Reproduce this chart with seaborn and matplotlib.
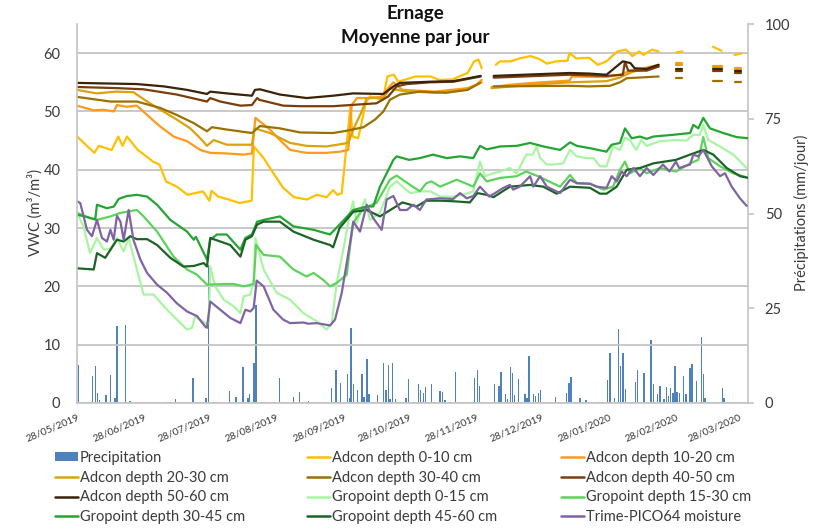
import numpy as np
import pandas as pd
import matplotlib
matplotlib.use("Agg")
import matplotlib.pyplot as plt
import matplotlib.dates as mdates
from matplotlib.lines import Line2D
from matplotlib.patches import Patch
import seaborn as sns

nan = np.nan
START = pd.Timestamp("2019-05-28")

# ---- data: (day offset from 28/05/2019, VWC) ; nan = gap in record ----
adcon_0_10 = [(0,45.7),(8,42.9),(10,44.1),(16,43.4),(19,45.7),(21,44.1),(23,45.7),(28,43.4),(32,42.3),(35,41.4),
    (38,40.9),(41,38.0),(46,37.1),(51,35.7),(58,36.3),(61,34.7),(62,36.4),(65,35.4),(69,35.0),(75,34.3),(80.5,34.7),
    (81.5,44.0),(86,42.0),(90.5,39.4),(95,36.9),(100,35.3),(106,34.9),(110.5,35.7),(115,35.3),(118,36.5),(120,35.7),
    (122,36.0),(124,43.4),(126,50.9),(127,45.7),(129.5,45.4),(130.5,46.9),(133,51.4),(135,52.6),(141,52.0),(143,56.0),
    (146,56.3),(148,55.1),(156,56.0),(163,56.0),(167,55.4),(173,55.5),(180,56.6),(183,58.6),(185,58.9),(186.5,57.4),
    (189,nan),(193,58.0),(195,58.6),(200,58.6),(204,59.1),(209,59.5),(213,59.0),(216.5,58.2),(221,58.6),(226,58.7),
    (227,60.0),(230,59.1),(236,59.2),(240,58.0),(244,58.6),(249,60.3),(253,60.6),(256,59.5),(259,60.3),(261,59.7),
    (265,60.6),(268,60.3),(272,nan),(276,60.1),(279,60.3),(286,nan),(293,61.1),(297,60.4),(300,nan),(303,59.7),(306,59.9)]
adcon_10_20 = [(0,51.0),(7.7,50.2),(12,50.3),(17,50.0),(18.4,51.1),(23,50.8),(27.6,51.0),(32.3,49.4),(38.4,47.4),
    (44.5,45.7),(50.7,44.9),(56.8,43.4),(61.4,42.9),(69,42.8),(76.8,42.6),(80.6,42.8),(82.2,48.9),(88.9,46.9),(93.5,45.1),
    (98.2,43.4),(105.8,42.9),(115,42.9),(121.2,43.1),(125,43.4),(126.6,51.1),(129,52.3),(135,52.3),(140,52.5),(145.7,55.0),
    (150,53.7),(165,53.4),(180,54.0),(184,54.6),(186.5,55.4),(189,nan),(191,54.2),(200,54.6),(210,54.9),(227,55.3),
    (228,56.0),(244,55.9),(250,56.3),(256,57.1),(261,57.4),(268,58.0),(272,nan),(276,58.3),(279,58.3),(286,nan),
    (293,57.8),(297,57.8),(300,nan),(303,57.4),(306,57.4)]
adcon_20_30 = [(0,53.7),(9,53.1),(18,53.4),(26,53.3),(32.3,51.7),(38.4,50.3),(46,48.6),(52.2,47.1),(57.6,45.1),
    (59.9,44.1),(63,45.1),(69,44.3),(80.6,44.3),(81.8,47.1),(89,46.3),(98.2,44.6),(105.8,44.1),(115,44.0),(125,44.6),
    (127.3,46.9),(131.2,50.0),(133.5,52.3),(141.2,52.3),(144.2,54.0),(150,53.5),(165,53.2),(180,53.8),(186.5,55.0),
    (189,nan),(191,54.0),(210,54.6),(227,55.0),(244,55.2),(250,55.8),(256,56.8),(261,57.2),(268,57.7),(272,nan),
    (276,58.0),(279,58.0),(286,nan),(293,57.6),(297,57.6),(300,nan),(303,57.1),(306,57.1)]
adcon_30_40 = [(0,52.5),(15.4,51.7),(27.6,51.7),(38.4,50.6),(46,49.4),(53.8,48.0),(59.9,46.6),(62.2,47.3),(69,46.9),
    (80.6,46.3),(81.5,46.6),(84.3,47.5),(93.5,47.1),(102.8,46.4),(118,46.3),(124.3,46.7),(132,47.3),(137.3,48.6),
    (141.2,50.0),(144.2,52.0),(148.8,52.9),(158,53.4),(170,53.2),(180,53.7),(185.7,54.9),(189,nan),(192,54.3),
    (227,54.4),(236,54.3),(245.6,54.4),(250.2,55.0),(253.3,55.7),(268,56.0),(272,nan),(276,55.7),(279,55.7),(286,nan),
    (293,55.3),(297,55.3),(300,nan),(303,55.0),(306,55.0)]
adcon_40_50 = [(0,54.2),(18.4,54.0),(30.7,53.8),(46,52.9),(59.9,51.7),(61.4,52.3),(66,51.7),(75.3,51.0),(80.6,51.1),
    (83,52.3),(84,52.0),(95,51.0),(102.8,50.9),(118,50.9),(125.8,51.1),(138,51.4),(143.5,52.6),(147.3,54.3),(152,54.7),
    (162.7,55.0),(173.5,55.1),(186,56.0),(189,nan),(192,55.8),(227,56.3),(236,56.2),(244,56.1),(251.5,56.3),(252.5,58.5),
    (254,57.0),(262.5,57.0),(268,57.7),(272,nan),(276,56.9),(279,56.9),(286,nan),(293,57.0),(297,57.0),(300,nan),
    (303,56.6),(306,56.6)]
adcon_50_60 = [(0,54.9),(27.6,54.7),(40,54.3),(50.7,53.7),(59.9,53.0),(61.4,53.4),(69,53.1),(80.6,52.7),(82,53.7),
    (84.3,53.8),(93.5,52.9),(105.8,52.3),(118,52.7),(127.3,53.1),(141.2,53.0),(145.8,54.3),(148.8,54.9),(162.7,55.1),
    (173.5,55.2),(186,56.1),(189,nan),(192,56.1),(227,56.6),(236,56.5),(244,56.3),(251.5,58.6),(255,58.3),(257,57.4),
    (262.5,57.3),(268,58.0),(272,nan),(276,57.3),(279,57.3),(286,nan),(293,57.3),(297,57.3),(300,nan),(303,56.9),(306,56.9)]
gropoint_0_15 = [(0,32.6),(3,30.3),(6,25.7),(9.2,28.3),(12.3,26.3),(15.4,26.4),(18.4,28.3),(21.5,26.0),(23.8,28.3),
    (27.6,22.9),(30.7,18.6),(35.3,18.6),(40,16.6),(46,14.3),(50.7,12.6),(53,12.9),(54.5,14.9),(59.1,13.7),(60.7,13.7),
    (61.4,23.4),(63.7,20.0),(67.6,17.7),(72.2,16.6),(75.3,15.4),(76.8,18.3),(79.9,18.6),(81.4,21.1),(82.2,28.3),(86,22.9),
    (92,18.9),(98.2,17.7),(104.3,15.4),(110.5,14.0),(115,12.6),(117.4,13.7),(119.7,20.6),(122.7,26.3),(125.8,32.6),
    (127.3,34.6),(128.9,30.9),(132.7,34.9),(135,31.4),(139.6,32.6),(144.2,37.1),(147.3,38.0),(153.5,36.0),(158,36.3),
    (162.7,36.3),(167.3,35.4),(173.4,35.4),(178,35.7),(182.6,36.3),(185.7,41.4),(188,38.9),(191.9,39.4),(195,39.7),
    (199.5,40.3),(202.6,39.4),(207,42.6),(210,42.6),(211.8,44.0),(213.4,42.0),(216.5,40.9),(219.5,40.9),(224,41.1),
    (227.2,43.4),(230.3,42.3),(234.9,42.0),(238,42.0),(241,40.6),(244,40.6),(247,44.0),(250.2,43.4),(252.5,45.5),
    (254.8,45.1),(257.7,43.4),(260,45.1),(262.5,44.1),(268.7,44.9),(276,45.1),(280.9,45.0),(284,46.0),(287,46.0),
    (288.6,47.7),(290.9,45.1),(296.3,44.0),(302.4,42.6),(308.6,40.3)]
gropoint_15_30 = [(0,32.6),(6,31.7),(9.2,31.4),(15.4,32.0),(20,32.6),(27.6,33.1),(30.7,32.0),(36.9,29.4),(44.5,25.1),
    (50.7,22.9),(55.3,22.0),(59.9,20.3),(67.6,20.4),(72.2,20.4),(76.8,20.0),(81.4,20.4),(82.5,27.1),(86,25.4),(93.5,25.1),
    (99.7,22.9),(105.8,21.7),(109,22.3),(113.5,21.1),(116.6,20.0),(119.7,20.6),(124.3,22.0),(125.8,26.8),(127.3,30.9),
    (132,33.4),(138,34.3),(144.2,38.3),(147.3,39.0),(153.5,37.4),(158,36.3),(161,37.7),(163.4,38.0),(167.3,37.1),
    (175,38.3),(182.6,37.1),(185.7,39.4),(188.8,38.0),(195,38.6),(202.6,38.9),(207,39.7),(212.4,38.9),(222.6,37.1),
    (227.2,39.1),(230.3,37.7),(236.4,37.6),(242.6,36.6),(247,37.1),(250.2,40.0),(252.5,41.4),(254.8,39.4),(259.4,40.3),
    (262.5,39.4),(268.7,40.3),(276,39.7),(282.5,41.1),(286.3,41.7),(288.6,45.6),(290.9,42.0),(296.3,40.6),(302.4,39.4),
    (308.6,38.7)]
gropoint_30_45 = [(0,32.3),(4.6,31.9),(8.4,31.5),(9.2,34.0),(13.8,33.4),(17,33.7),(19.2,35.0),(23,35.5),(27.6,35.7),
    (32.3,35.4),(36.9,34.0),(43,31.4),(50.7,29.4),(53.8,28.0),(54.8,28.5),(59.9,24.6),(61.4,28.0),(64.5,28.9),(69,28.9),
    (75.3,26.3),(77.6,28.3),(80.6,28.9),(83,31.1),(86,31.4),(93.5,32.0),(99.7,30.3),(109,29.7),(116.6,28.9),(121,30.6),
    (127.3,33.1),(133.5,33.7),(136.5,33.7),(139.6,37.1),(142.7,39.4),(145.8,41.7),(147.3,42.3),(153,41.7),(158,42.0),
    (164,42.6),(170.4,42.0),(176.5,42.3),(182.6,42.0),(185.7,44.1),(188.8,43.5),(195,44.0),(202.6,44.1),(208.8,44.6),
    (214.9,44.0),(222.6,43.4),(227.2,44.7),(230.3,44.1),(236.4,43.7),(244,43.1),(246.4,44.3),(250.2,44.6),(252.5,47.1),
    (255.6,45.4),(259.4,45.7),(262.5,45.3),(265.6,45.7),(274.8,46.0),(282.5,46.3),(284,47.7),(286.3,47.1),(288.6,48.9),
    (291.7,47.1),(297.8,46.3),(304,45.6),(309.4,45.4)]
gropoint_45_60 = [(0,23.1),(7.7,22.9),(9.2,25.7),(13,24.9),(18.4,28.0),(21.5,27.7),(24.5,28.6),(27.6,28.1),(32.3,28.1),
    (36.9,27.1),(43,24.9),(49,23.4),(53.8,23.5),(58.4,24.0),(59.9,23.4),(61.4,28.3),(66,27.7),(70.6,27.1),(75.3,25.1),
    (77.6,28.0),(80.6,28.6),(83,30.6),(86,31.1),(93.5,31.1),(99.7,29.4),(109,28.0),(116.6,27.1),(118,26.7),(121,30.0),
    (127.3,32.8),(133.5,33.1),(139.6,32.0),(150,34.4),(156.5,33.7),(161,34.7),(167.3,34.7),(173.4,34.6),(181,34.4),
    (184.5,36.0),(188.8,35.7),(191.9,35.3),(199.5,37.1),(208.8,37.4),(214.9,37.1),(221,35.9),(227.2,37.1),(236.4,36.9),
    (241,35.9),(244,35.9),(248.7,37.1),(253.3,40.0),(259.4,40.3),(265.6,41.1),(276,41.7),(282.5,42.6),(288.6,43.4),
    (293.2,42.6),(299.4,40.3),(305.5,38.9),(309.4,38.6)]
trime_pico64 = [(0,34.6),(1.5,34.3),(4.6,29.7),(6.9,28.6),(9.2,31.4),(11.5,28.3),(13.8,27.7),(15.4,29.7),(16.9,28.0),
    (18.4,32.1),(20,31.1),(21.5,28.0),(23.8,33.1),(26,28.0),(29.2,24.6),(32.3,22.3),(36.9,20.3),(41.5,18.9),(46,17.1),
    (50.7,15.7),(55.3,14.9),(59.1,13.1),(59.9,12.9),(61.4,17.4),(66,16.0),(70.6,14.6),(75.3,13.7),(77.6,16.0),(79.9,15.7),
    (81.4,16.3),(82.8,21.0),(86,20.0),(90.5,16.0),(95,14.3),(98.2,13.7),(104.3,13.8),(106.6,13.6),(110.5,13.7),
    (116.6,13.3),(118.9,14.3),(122,18.9),(125.8,27.4),(127.3,31.1),(130.4,29.4),(133.5,34.0),(136.5,31.7),(140.4,29.7),
    (142.7,34.9),(145.8,35.5),(148.8,33.1),(152,33.1),(155,34.0),(158,33.1),(161,34.9),(167.3,35.1),(173.4,35.0),
    (176.5,36.0),(179.6,35.1),(182.6,35.5),(185.7,37.1),(190,35.4),(196.5,36.9),(199.5,37.4),(201,36.6),(204,37.1),
    (208.8,38.9),(210.3,37.1),(213.4,38.9),(216.5,37.1),(222.6,36.0),(227.2,38.3),(230.3,37.7),(236.4,37.6),(239.5,37.1),
    (244,36.9),(246.4,38.9),(248.7,38.0),(251,39.7),(253.3,38.9),(256.4,40.3),(259.4,38.9),(262.5,40.3),(265.6,39.1),
    (270,40.9),(273,39.7),(276,41.4),(277.5,40.3),(282.5,40.9),(284,42.6),(286.3,42.3),(288.6,43.4),(292.5,40.6),
    (296.3,38.9),(298.6,39.4),(301.7,37.1),(305.5,35.1),(308.6,33.8)]

precip_day = [0.8,7.2,8.6,9.4,10.3,13.4,15.5,17.4,18.4,22.4,24.5,45.5,53.5,59.4,60.7,70.2,73.3,76.4,78.7,79.4,81.6,82.5,
    93.4,99.7,102.6,106.6,117.3,119.4,121.5,124.6,125.5,126.3,127.4,129.3,131.4,132.3,133.6,134.5,138.4,141.2,142.3,143.6,
    144.3,145.3,146.8,151.5,152.8,157.3,158.2,159.6,160.5,163.4,167.3,168.5,169.5,174.4,183.2,184.5,185.4,192.3,194.5,
    195.4,197.4,198.3,199.7,200.6,201.5,203.5,206.5,207.3,208.3,210.4,211.2,212.7,213.6,220.4,225.5,226.6,227.6,231.8,
    234.6,244.4,245.5,247.6,249.6,250.4,251.5,252.8,257.3,258.2,261.3,264.4,265.6,267.5,268.7,270.6,271.6,272.5,273.4,
    274.6,275.6,276.5,277.6,279.4,280.6,282.5,283.4,285.4,287.7,288.6,289.4,297.5,298.2]
precip_mm = [10.1,7.2,9.8,2.6,0.9,2.2,7.4,1.2,20.4,20.7,0.4,1.1,6.7,1.2,36.5,3.2,1.7,9.4,1.2,2.5,10.5,25.9,
    6.7,1.7,3.0,0.5,3.9,8.6,5.4,7.6,1.3,19.8,4.9,3.5,7.6,1.5,11.6,2.3,2.0,10.5,3.3,10.0,
    1.0,10.5,1.0,1.3,6.4,4.9,3.5,2.6,4.2,4.9,3.2,3.0,0.9,8.3,6.7,8.6,4.4,5.1,4.4,
    8.3,2.4,1.1,9.6,7.8,2.2,6.3,2.3,1.2,12.5,2.3,1.9,2.7,3.4,1.7,2.7,5.4,6.8,1.4,
    0.9,6.1,13.2,1.4,19.5,9.8,13.2,3.7,5.6,8.6,7.9,16.5,5.1,2.4,4.4,1.0,4.2,1.9,3.9,
    2.6,9.8,3.0,2.6,7.2,2.5,9.3,10.4,5.9,17.4,7.6,1.2,4.0,1.2]

x_tick_dates = ["2019-05-28", "2019-06-28", "2019-07-28", "2019-08-28", "2019-09-28", "2019-10-28",
                "2019-11-28", "2019-12-28", "2020-01-28", "2020-02-28", "2020-03-28"]

series_names = ["Adcon depth 0-10 cm", "Adcon depth 10-20 cm", "Adcon depth 20-30 cm", "Adcon depth 30-40 cm",
                "Adcon depth 40-50 cm", "Adcon depth 50-60 cm", "Gropoint depth 0-15 cm", "Gropoint depth 15-30 cm",
                "Gropoint depth 30-45 cm", "Gropoint depth 45-60 cm", "Trime-PICO64 moisture"]
series_data = [adcon_0_10, adcon_10_20, adcon_20_30, adcon_30_40, adcon_40_50, adcon_50_60,
               gropoint_0_15, gropoint_15_30, gropoint_30_45, gropoint_45_60, trime_pico64]
series_colors = ["#ffc000", "#ff9a1a", "#dba20c", "#9c7000", "#7a3d0c", "#3b2208",
                 "#a9f5a3", "#5cd35c", "#24a532", "#1b6326", "#8064a2"]
precip_color = "#4f81bd"

# ---- long table ----
rows = []
for name, pts in zip(series_names, series_data):
    seg = 0
    for d, v in pts:
        if np.isnan(v):
            seg += 1
            continue
        rows.append((name, seg, START + pd.Timedelta(days=d), v))
df = pd.DataFrame(rows, columns=["series", "seg", "date", "vwc"])
pdf = pd.DataFrame({"date": START + pd.to_timedelta(np.array(precip_day), unit="D"), "mm": precip_mm})

sns.set_style("white")
plt.rcParams["font.family"] = ["Lato", "DejaVu Sans"]
txt_col = "#3a3a3a"
grid_col = "#c4c4c4"

W, H = 833, 530
fig = plt.figure(figsize=(W / 100, H / 100), dpi=100)
L, R, T, B = 77, 748, 24, 403
ax = fig.add_axes([L / W, 1 - B / H, (R - L) / W, (B - T) / H])
ax2 = ax.twinx()
ax.set_zorder(ax2.get_zorder() + 1)
ax.patch.set_visible(False)

# precipitation bars (secondary axis)
ax2.bar(pdf["date"], pdf["mm"], width=0.7, color=precip_color, linewidth=0)
ax2.set_ylim(0, 100)
ax2.set_yticks([0, 25, 50, 75, 100])

# VWC lines
sns.lineplot(data=df, x="date", y="vwc", hue="series", units="seg", estimator=None,
             hue_order=series_names, palette=dict(zip(series_names, series_colors)),
             linewidth=1.6, legend=False, ax=ax)

ax.set_ylim(0, 65)
ax.set_yticks(range(0, 61, 10))
xmin, xmax = START, START + pd.Timedelta(days=309.2)
ax.set_xlim(xmin, xmax)
ax2.set_xlim(xmin, xmax)
ax.set_xticks(pd.to_datetime(x_tick_dates))
ax.xaxis.set_major_formatter(mdates.DateFormatter("%d/%m/%Y"))
ax.set_xlabel("")
ax.set_ylabel("")
ax2.set_ylabel("")

ax.yaxis.grid(True, color=grid_col, linewidth=1.3)
ax.xaxis.grid(False)
for s in ["top", "right"]:
    ax.spines[s].set_visible(False)
for s in ["left", "bottom"]:
    ax.spines[s].set_color(grid_col)
    ax.spines[s].set_linewidth(1.2)
for s in ["top", "left", "bottom"]:
    ax2.spines[s].set_visible(False)
ax2.spines["right"].set_color(grid_col)
ax2.spines["right"].set_linewidth(1.2)

ax.tick_params(axis="y", length=0, pad=12, labelsize=10.5, labelcolor=txt_col)
ax.tick_params(axis="x", length=4, width=1.2, color=grid_col, pad=3, labelsize=7.5, labelcolor=txt_col)
ax2.tick_params(axis="y", length=4, width=1.2, color=grid_col, pad=8, labelsize=10.5, labelcolor=txt_col)
for lbl in ax.get_xticklabels():
    lbl.set_rotation(23)
    lbl.set_ha("right")
    lbl.set_va("top")
    lbl.set_rotation_mode("anchor")

# titles and axis labels
fig.text(415 / W, 1 - 14 / H, "Ernage", ha="center", va="center", fontsize=13.5, fontweight="bold", color="#111111")
fig.text(415 / W, 1 - 37 / H, "Moyenne par jour", ha="center", va="center", fontsize=13.5, fontweight="bold", color="#111111")
fig.text(35 / W, 1 - 213 / H, "VWC (m³/m³)", rotation=90, ha="center", va="center", fontsize=10.5, color=txt_col)
fig.text(801 / W, 1 - 213 / H, "Précipitations (mm/jour)", rotation=90, ha="center", va="center", fontsize=10.5, color=txt_col)

# legend (row-major like the original, 3 columns)
handles = [Patch(facecolor=precip_color, edgecolor="none")] + \
          [Line2D([], [], color=c, linewidth=1.8) for c in series_colors]
labels = ["Precipitation"] + series_names
col_x = [55, 307, 561]
for c in range(3):
    idx = [c + 3 * r for r in range(4)]
    fig.legend([handles[i] for i in idx], [labels[i] for i in idx], loc="upper left",
               bbox_to_anchor=(col_x[c] / W, 1 - 451 / H), frameon=False, borderpad=0, borderaxespad=0,
               handlelength=1.6, handleheight=0.55, handletextpad=0.1, labelspacing=0.39,
               fontsize=10.5, labelcolor=txt_col)

fig.savefig("out.png", dpi=100)
